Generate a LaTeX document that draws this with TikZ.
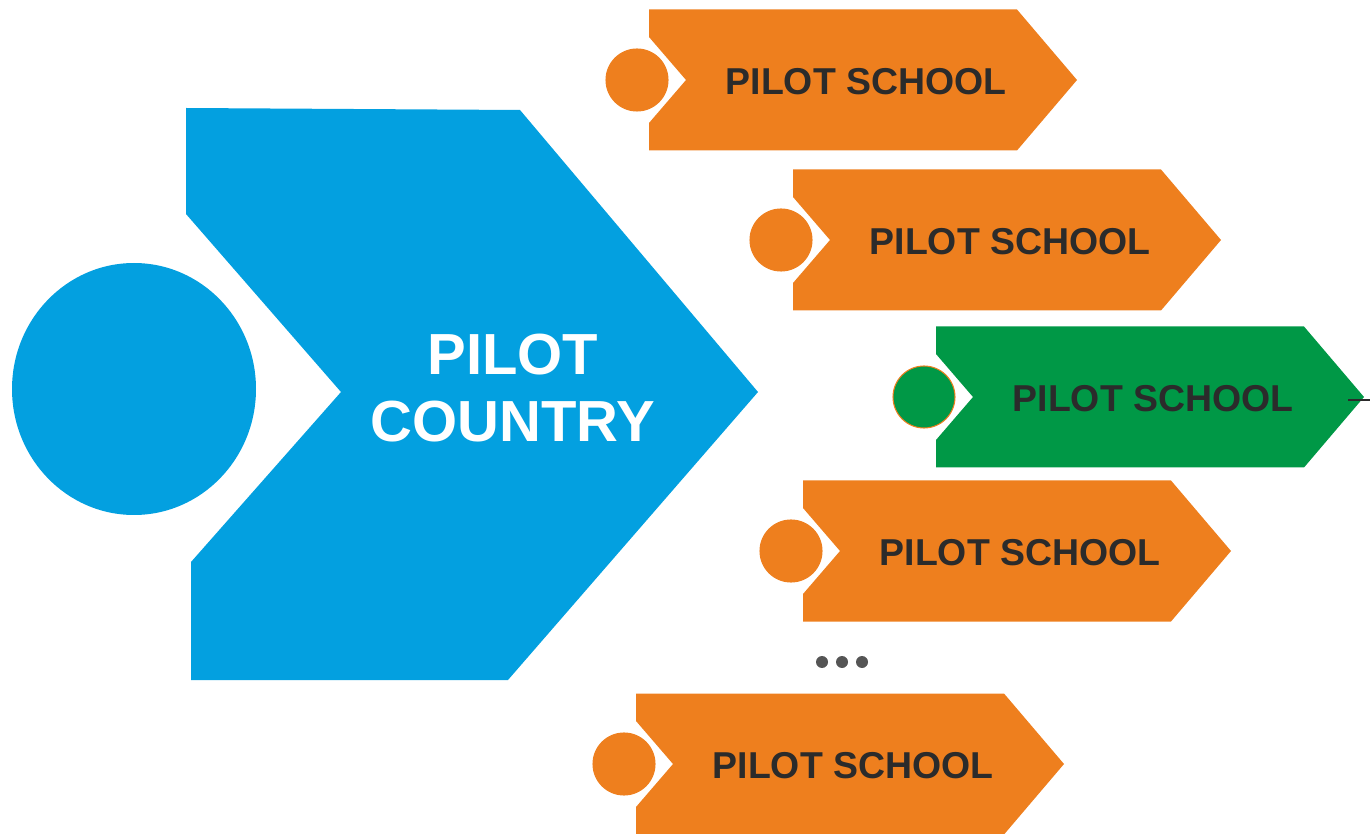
\documentclass[tikz,border=0pt]{standalone}
\usepackage{fontspec}
\setmainfont{Liberation Sans}
\usepackage{xcolor}
\usepackage{tikz}
\usetikzlibrary{positioning,calc}

\definecolor{countryblue}{HTML}{03A0E0}
\definecolor{schoolorange}{HTML}{EE7F1E}
\definecolor{schoolgreen}{HTML}{009846}
\definecolor{labeldark}{HTML}{2B2B2B}
\definecolor{dotgrey}{HTML}{555555}

\tikzset{
  schoollabel/.style={font=\fontsize{21.3}{25}\selectfont\bfseries, text=labeldark, inner sep=0pt},
  countrylabel/.style={font=\fontsize{33}{38.5}\selectfont\bfseries, text=white, align=center, inner sep=0pt},
}

\begin{document}
\begin{tikzpicture}[x=0.02cm,y=-0.02cm]
	\useasboundingbox (0,0) rectangle (1370,834);
	\def\half{70.5}
	\def\notch{43}
	
	% pilot country: circle and big chevron
	\fill[countryblue] (134,389) ellipse [x radius=122, y radius=126];
	\fill[countryblue] (186,108) -- (520,110) -- (758,392) -- (508,680) -- (191,680)
		-- (191,562) -- (341,392) -- (186,214) -- cycle;
	\node[countrylabel] (country) at (513,388) {PILOT\\COUNTRY};
	
	% pilot schools
	\foreach \name/\x/\y/\col/\ring in {one/649/80/schoolorange/schoolorange,
		two/793/240/schoolorange/schoolorange,
		three/936/397/schoolgreen/schoolorange,
		four/803/551/schoolorange/schoolorange,
		five/636/764/schoolorange/schoolorange}{
		\fill[\col] (\x,\y-\half) -- (\x+368,\y-\half) -- (\x+428,\y) -- (\x+368,\y+\half)
			-- (\x,\y+\half) -- (\x,\y+\notch) -- (\x+37,\y) -- (\x,\y-\notch) -- cycle;
		\filldraw[fill=\col, draw=\ring, line width=0.6pt] (\x-12,\y) circle [radius=31];
		\node[schoollabel] (school-\name) at (\x+217,\y+2) {PILOT SCHOOL};
	}
	
	% more schools
	\foreach \dx in {822,842,862}
		\fill[dotgrey] (\dx,662) circle [radius=6];
	
	% stub leaving the green school
	\coordinate (tip) at (1348,400);
	\coordinate (away) at (1370,400);
	\draw[labeldark, line width=1.5pt] (tip) -- (away);
\end{tikzpicture}
\end{document}
